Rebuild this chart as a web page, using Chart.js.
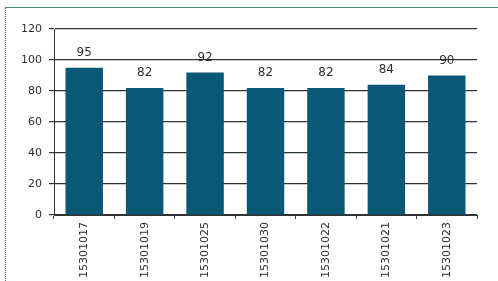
<!DOCTYPE html>
<html>
<head>
<meta charset="utf-8">
<script src="https://cdn.jsdelivr.net/npm/chart.js@4.4.1/dist/chart.umd.min.js"></script>
<style>
  html, body { margin: 0; padding: 0; background: #fff; }
  #wrap { position: relative; width: 498px; height: 281px; }
  #frame {
    position: absolute; left: 5px; top: 7px; right: 0; bottom: 0;
    border-left: 1px dotted #4a6fa0; border-top: 1px solid #3f8f7a;
    pointer-events: none;
  }
</style>
</head>
<body>
<div id="wrap">
  <canvas id="chart" width="498" height="281"></canvas>
  <div id="frame"></div>
</div>
<script>
// Data
const categories = ['15301017', '15301019', '15301025', '15301030', '15301022', '15301021', '15301023'];
const values = [95, 82, 92, 82, 82, 84, 90];
const yTicks = [0, 20, 40, 60, 80, 100, 120];

const barColor = '#0b5876';
const textColor = '#2e2e2e';

// Value labels above the bars
const valueLabels = {
    id: 'valueLabels',
    afterDatasetsDraw(chart) {
        const c = chart.ctx;
        const meta = chart.getDatasetMeta(0);
        c.save();
        c.font = '12px "DejaVu Sans", Verdana, sans-serif';
        c.fillStyle = textColor;
        c.textAlign = 'center';
        c.textBaseline = 'middle';
        meta.data.forEach((bar, i) => {
            c.fillText(String(values[i]), bar.x, bar.y - 15);
        });
        c.restore();
    }
};

const ctx = document.getElementById('chart').getContext('2d');

const chart = new Chart(ctx, {
    type: 'bar',
    data: {
        labels: categories,
        datasets: [{
            data: values,
            backgroundColor: barColor,
            borderWidth: 0,
            barPercentage: 0.62,
            categoryPercentage: 1.0
        }]
    },
    options: {
        responsive: false,
        animation: false,
        layout: { padding: { left: 10, right: 21, top: 29, bottom: 2 } },
        plugins: {
            legend: { display: false },
            tooltip: { enabled: false }
        },
        scales: {
            x: {
                offset: true,
                grid: {
                    display: true,
                    drawOnChartArea: false,
                    drawTicks: true,
                    tickLength: 4,
                    color: '#444'
                },
                border: { display: true, color: '#333', width: 1 },
                ticks: {
                    color: textColor,
                    font: { family: '"DejaVu Sans", Verdana, sans-serif', size: 11 },
                    minRotation: 90,
                    maxRotation: 90,
                    padding: 3
                },
                afterFit(scale) { scale.height = 64; }
            },
            y: {
                min: 0,
                max: 120,
                afterBuildTicks(scale) { scale.ticks = yTicks.map(v => ({ value: v })); },
                grid: {
                    color: '#2b3434',
                    lineWidth: 1.2,
                    tickLength: 5
                },
                border: { display: true, color: '#333', width: 1 },
                ticks: {
                    color: textColor,
                    font: { family: '"DejaVu Sans", Verdana, sans-serif', size: 11 },
                    padding: 7
                },
                afterFit(scale) { scale.width = 44; }
            }
        }
    },
    plugins: [valueLabels]
});
</script>
</body>
</html>
